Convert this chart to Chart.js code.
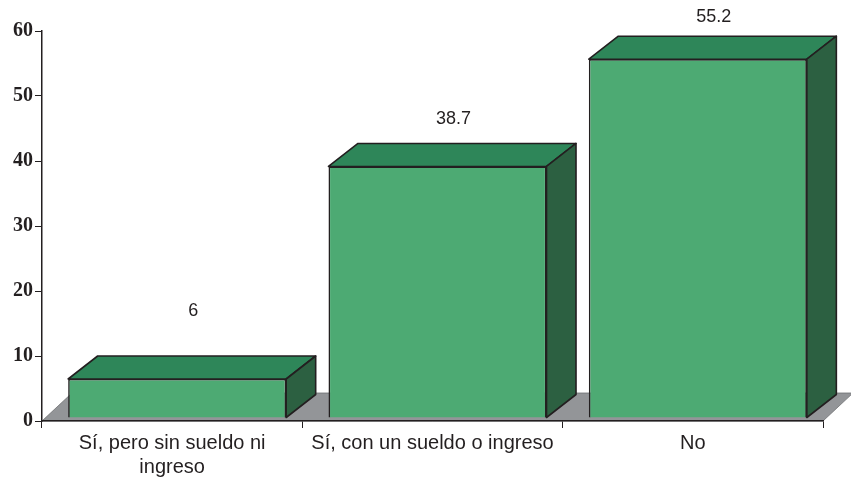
<!DOCTYPE html>
<html>
<head>
<meta charset="utf-8">
<script src="https://cdn.jsdelivr.net/npm/chart.js@4"></script>
<style>
  html, body { margin: 0; padding: 0; background: #fff; }
  canvas { display: block; }
</style>
</head>
<body>
<canvas id="myChart" width="851" height="487"></canvas>
<script>
const categories = [['Sí, pero sin sueldo ni', 'ingreso'], 'Sí, con un sueldo o ingreso', 'No'];
const values = [6, 38.7, 55.2];
const yTicks = [0, 10, 20, 30, 40, 50, 60];

const ink = '#231f20';
const depthX = 29.5;
const depthY = 23;
// the bars sit a bit off the axis in the original
const shiftX = 5;
const shiftY = -3;
// how far above each bar the number is printed
const labelLift = [68, 47, 42];

function face(c, pts, fill) {
    c.beginPath();
    c.moveTo(pts[0][0], pts[0][1]);
    for (let i = 1; i < pts.length; i++) c.lineTo(pts[i][0], pts[i][1]);
    c.closePath();
    c.fillStyle = fill;
    c.fill();
    c.stroke();
}

const box3d = {
    id: 'box3d',
    beforeDraw(chart) {
        const c = chart.ctx;
        const a = chart.chartArea;
        c.save();
        c.strokeStyle = '#6d6e71';
        c.lineWidth = 0.8;
        face(c, [
            [a.left, a.bottom],
            [a.left + 30, a.bottom - 28],
            [a.right + 30, a.bottom - 28],
            [a.right, a.bottom]
        ], '#939598');
        c.restore();
    },
    beforeDatasetsDraw(chart) {
        const c = chart.ctx;
        c.save();
        c.translate(shiftX, shiftY);
        c.strokeStyle = ink;
        c.lineWidth = 1.6;
        c.lineJoin = 'round';
        chart.getDatasetMeta(0).data.forEach(bar => {
            const l = bar.x - bar.width / 2;
            const r = bar.x + bar.width / 2;
            face(c, [[l, bar.y], [l + depthX, bar.y - depthY], [r + depthX, bar.y - depthY], [r, bar.y]], '#2e8659');
            face(c, [[r, bar.y], [r + depthX, bar.y - depthY], [r + depthX, bar.base - depthY], [r, bar.base]], '#2c6041');
        });
    },
    afterDatasetsDraw(chart) {
        const c = chart.ctx;
        c.restore();
        c.save();
        c.fillStyle = ink;
        c.font = '18px "Liberation Sans"';
        c.textAlign = 'center';
        c.textBaseline = 'middle';
        chart.getDatasetMeta(0).data.forEach((bar, i) => {
            c.fillText(values[i], bar.x + shiftX + 16, bar.y + shiftY - labelLift[i]);
        });
        c.restore();
    }
};

new Chart(document.getElementById('myChart'), {
    type: 'bar',
    data: {
        labels: categories,
        datasets: [{
            data: values,
            backgroundColor: '#4daa73',
            borderColor: ink,
            borderWidth: 1.6,
            barPercentage: 0.8375,
            categoryPercentage: 1,
            clip: false
        }]
    },
    options: {
        responsive: false,
        animation: false,
        layout: { padding: { top: 31, right: 28, left: 0, bottom: 0 } },
        plugins: { legend: { display: false }, tooltip: { enabled: false } },
        scales: {
            x: {
                afterFit(scale) { scale.height = 66; },
                border: { color: ink, width: 1.5 },
                grid: { drawOnChartArea: false, color: ink, tickLength: 7, offset: true },
                ticks: {
                    color: ink,
                    font: { family: '"Liberation Sans"', size: 20 },
                    padding: 3,
                    maxRotation: 0,
                    autoSkip: false
                }
            },
            y: {
                min: 0,
                max: 60,
                afterFit(scale) { scale.width = 42; },
                afterBuildTicks(scale) { scale.ticks = yTicks.map(v => ({ value: v })); },
                border: { color: ink, width: 1.5 },
                grid: { drawOnChartArea: false, color: ink, tickLength: 7 },
                ticks: {
                    color: ink,
                    font: { family: '"Liberation Serif"', size: 20, weight: 'bold' },
                    padding: 2
                }
            }
        }
    },
    plugins: [box3d]
});
</script>
</body>
</html>
